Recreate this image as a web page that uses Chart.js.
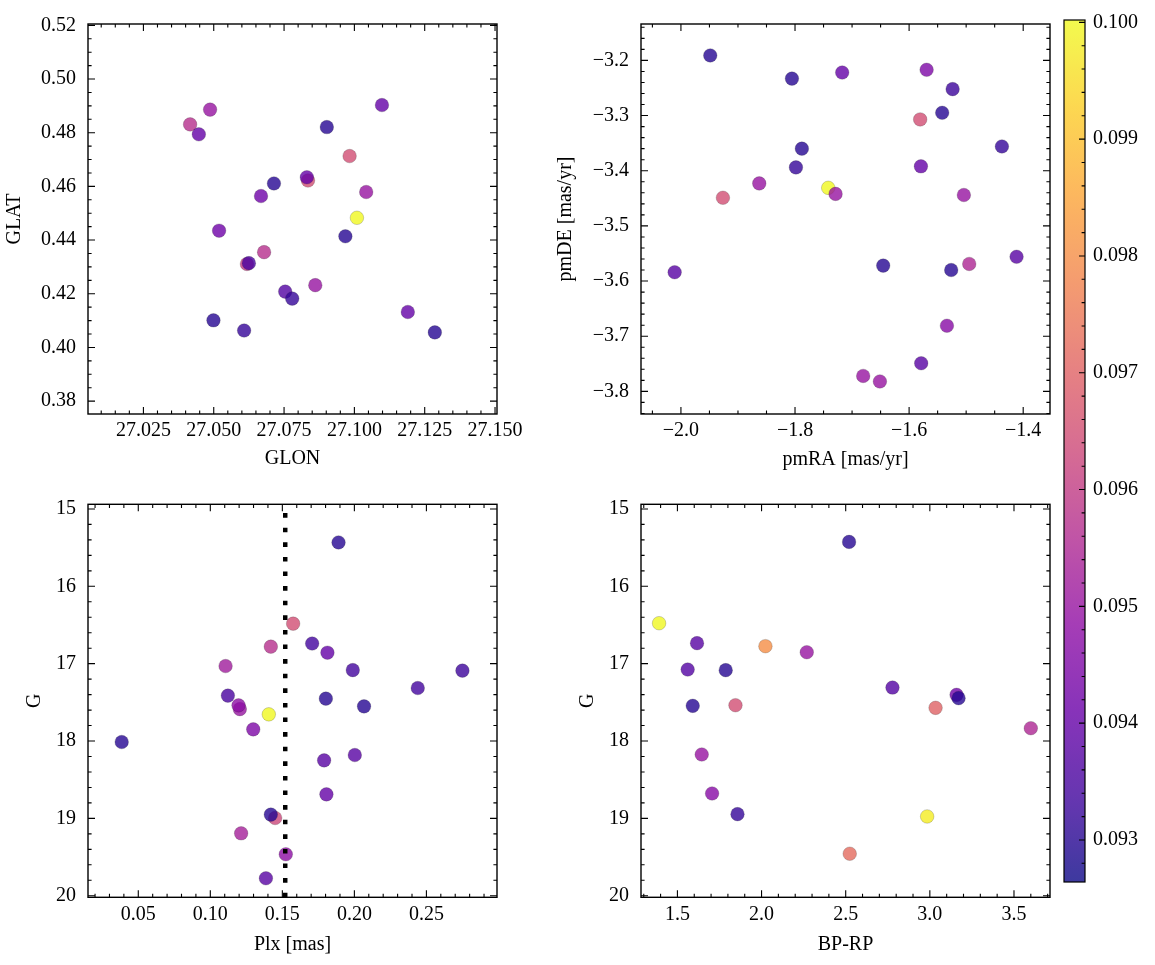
<!DOCTYPE html>
<html>
<head>
<meta charset="utf-8">
<script src="https://cdn.jsdelivr.net/npm/chart.js@4.4.1/dist/chart.umd.min.js"></script>
<style>
  body { margin: 0; background: #fff; }
  #wrap { position: relative; width: 1155px; height: 965px; }
  #wrap canvas { position: absolute; left: 0; top: 0; }
</style>
</head>
<body>
<div id="wrap">
  <canvas id="skyChart" width="1155" height="965"></canvas>
  <canvas id="pmChart" width="1155" height="965"></canvas>
  <canvas id="plxChart" width="1155" height="965"></canvas>
  <canvas id="cmdChart" width="1155" height="965"></canvas>
  <canvas id="cbarChart" width="1155" height="965"></canvas>
</div>
<script>
// ---- data ----
// sky positions
const glon = [27.0416, 27.0487, 27.0447, 27.1098, 27.0902, 27.0983, 27.0835, 27.0831, 27.0714, 27.0668, 27.1042, 27.1009, 27.0519, 27.0968, 27.0679, 27.0618, 27.0625, 27.0861, 27.0754, 27.0779, 27.0499, 27.0608, 27.1190, 27.1286];
const glat = [0.4831, 0.4886, 0.4794, 0.4903, 0.4821, 0.4713, 0.4622, 0.4634, 0.4611, 0.4564, 0.4579, 0.4483, 0.4435, 0.4414, 0.4355, 0.4311, 0.4314, 0.4232, 0.4208, 0.4182, 0.4101, 0.4063, 0.4132, 0.4056];
const probSky = [0.0957, 0.0950, 0.0940, 0.0940, 0.0930, 0.0965, 0.0965, 0.0940, 0.0930, 0.0942, 0.0950, 0.1000, 0.0942, 0.0930, 0.0957, 0.0960, 0.0935, 0.0950, 0.0937, 0.0932, 0.0930, 0.0932, 0.0940, 0.0930];

// proper motions
const pmra = [-1.9486, -1.8054, -1.7173, -1.5693, -1.5237, -1.5420, -1.5806, -1.4373, -1.7880, -1.7984, -1.5793, -1.8627, -1.9264, -1.7418, -1.7289, -1.5040, -1.4946, -1.4116, -1.6454, -1.5262, -2.0110, -1.5337, -1.5788, -1.6805, -1.6512];
const pmde = [-3.191, -3.233, -3.222, -3.217, -3.252, -3.295, -3.307, -3.356, -3.360, -3.394, -3.392, -3.423, -3.449, -3.431, -3.442, -3.444, -3.569, -3.556, -3.572, -3.580, -3.584, -3.681, -3.749, -3.772, -3.782];
const probPm = [0.0930, 0.0930, 0.0940, 0.0945, 0.0933, 0.0930, 0.0965, 0.0932, 0.0930, 0.0932, 0.0940, 0.0950, 0.0965, 0.1000, 0.0950, 0.0950, 0.0955, 0.0938, 0.0930, 0.0930, 0.0938, 0.0947, 0.0938, 0.0950, 0.0950];

// parallax vs G
const plx = [0.1890, 0.1575, 0.1420, 0.1707, 0.1813, 0.1106, 0.1989, 0.2750, 0.2440, 0.1122, 0.1802, 0.2067, 0.1205, 0.1196, 0.1406, 0.1298, 0.0385, 0.2003, 0.1790, 0.1806, 0.1450, 0.1420, 0.1214, 0.1524, 0.1386];
const gPlx = [15.433, 16.483, 16.780, 16.740, 16.858, 17.031, 17.083, 17.090, 17.315, 17.413, 17.452, 17.552, 17.587, 17.539, 17.655, 17.849, 18.013, 18.181, 18.250, 18.689, 18.995, 18.951, 19.193, 19.464, 19.774];
const probPlx = [0.0930, 0.0965, 0.0957, 0.0934, 0.0940, 0.0952, 0.0934, 0.0933, 0.0934, 0.0935, 0.0930, 0.0930, 0.0950, 0.0948, 0.1000, 0.0945, 0.0930, 0.0938, 0.0938, 0.0940, 0.0963, 0.0930, 0.0953, 0.0948, 0.0938];
const plxCut = 0.152;

// colour-magnitude
const bprp = [2.520, 1.391, 1.6165, 2.023, 2.2687, 1.561, 1.787, 2.778, 3.1587, 3.1706, 1.591, 1.845, 3.034, 3.600, 1.6445, 1.706, 1.857, 2.984, 2.524];
const gCmd = [15.426, 16.477, 16.735, 16.774, 16.852, 17.076, 17.084, 17.309, 17.403, 17.446, 17.545, 17.537, 17.571, 17.834, 18.174, 18.678, 18.945, 18.975, 19.457];
const probCmd = [0.0930, 0.1000, 0.0938, 0.0980, 0.0950, 0.0937, 0.0930, 0.0937, 0.0942, 0.0930, 0.0930, 0.0965, 0.0970, 0.0955, 0.0950, 0.0947, 0.0932, 0.0998, 0.0972];

// ticks and colour range
const glonTicks = [27.025, 27.05, 27.075, 27.1, 27.125, 27.15];
const glatTicks = [0.38, 0.40, 0.42, 0.44, 0.46, 0.48, 0.50, 0.52];
const pmraTicks = [-2.0, -1.8, -1.6, -1.4];
const pmdeTicks = [-3.8, -3.7, -3.6, -3.5, -3.4, -3.3, -3.2];
const plxTicks = [0.05, 0.10, 0.15, 0.20, 0.25];
const bprpTicks = [1.5, 2.0, 2.5, 3.0, 3.5];
const gTicks = [15, 16, 17, 18, 19, 20];
const cbarTicks = [0.093, 0.094, 0.095, 0.096, 0.097, 0.098, 0.099, 0.100];
const probMin = 0.09264, probMax = 0.10002;

// ---- drawing ----
const W = 1155, H = 965;
Chart.defaults.font.family = "'Liberation Serif', 'Times New Roman', serif";
Chart.defaults.font.size = 20;
Chart.defaults.color = "#000";

// matplotlib plasma, sampled every 0.1
const plasmaStops = [[13,8,135],[65,4,157],[106,0,168],[143,13,164],[177,42,144],[204,71,120],[225,100,98],[242,132,75],[252,166,54],[252,206,37],[240,249,33]];
function plasma(t) {
  t = Math.min(1, Math.max(0, t));
  const s = t * 10;
  const i = Math.min(9, Math.floor(s));
  const f = s - i;
  const a = plasmaStops[i], b = plasmaStops[i + 1];
  return a.map((v, k) => Math.round(v + (b[k] - v) * f));
}
function probColor(p, alpha) {
  const c = plasma((p - probMin) / (probMax - probMin));
  return `rgba(${c[0]},${c[1]},${c[2]},${alpha})`;
}
function fmt(v, d) {
  return v.toFixed(d).replace("-", "\u2212");
}

function minorValues(min, max, step, majors) {
  const out = [];
  for (let k = Math.ceil(min / step - 1e-6); k * step <= max + 1e-9; k++) {
    const v = k * step;
    if (!majors.some((m) => Math.abs(m - v) < step * 1e-3)) out.push(v);
  }
  return out;
}

// inward ticks on all four sides plus the frame
const axesFrame = {
  id: "axesFrame",
  afterDraw(chart, args, opts) {
    const { ctx, chartArea: a } = chart;
    const sx = chart.scales.x, sy = chart.scales.y;
    ctx.save();
    ctx.strokeStyle = "#000";
    ctx.lineWidth = 1.1;
    ctx.beginPath();
    const xm = sx.ticks.map((t) => t.value);
    const ym = sy.ticks.map((t) => t.value);
    const xTick = (v, len) => {
      const p = sx.getPixelForValue(v);
      ctx.moveTo(p, a.bottom); ctx.lineTo(p, a.bottom - len);
      ctx.moveTo(p, a.top); ctx.lineTo(p, a.top + len);
    };
    const yTick = (v, len) => {
      const p = sy.getPixelForValue(v);
      ctx.moveTo(a.left, p); ctx.lineTo(a.left + len, p);
      ctx.moveTo(a.right, p); ctx.lineTo(a.right - len, p);
    };
    xm.forEach((v) => xTick(v, 7));
    ym.forEach((v) => yTick(v, 7));
    minorValues(sx.min, sx.max, opts.xMinor, xm).forEach((v) => xTick(v, 3.6));
    minorValues(sy.min, sy.max, opts.yMinor, ym).forEach((v) => yTick(v, 3.6));
    ctx.stroke();
    ctx.lineWidth = 1.4;
    ctx.strokeRect(a.left, a.top, a.right - a.left, a.bottom - a.top);
    ctx.restore();
  },
};

function scatterSet(xs, ys, ps) {
  return {
    data: xs.map((x, i) => ({ x: x, y: ys[i] })),
    pointBackgroundColor: ps.map((p) => probColor(p, 0.8)),
    pointBorderColor: "rgba(40,40,40,0.35)",
    pointBorderWidth: 0.6,
    pointRadius: 6.8,
    order: 1,
  };
}

function panel(id, cfg) {
  const box = cfg.box;
  return new Chart(document.getElementById(id), {
    type: "scatter",
    data: { datasets: cfg.datasets },
    options: {
      responsive: false,
      animation: false,
      events: [],
      layout: {
        padding: { left: cfg.yTitleLeft, top: box.top, right: W - box.right, bottom: H - cfg.xAxisBottom },
      },
      plugins: {
        legend: { display: false },
        tooltip: { enabled: false },
        axesFrame: { xMinor: cfg.xMinor, yMinor: cfg.yMinor },
      },
      scales: {
        x: {
          type: "linear",
          position: "bottom",
          min: cfg.xRange[0],
          max: cfg.xRange[1],
          grid: { display: false, drawTicks: false },
          border: { display: false },
          afterBuildTicks: (s) => { s.ticks = cfg.xTicks.map((v) => ({ value: v })); },
          afterFit: (s) => { s.height = cfg.xAxisBottom - box.bottom; },
          ticks: { autoSkip: false, maxRotation: 0, padding: 5, callback: (v) => fmt(v, cfg.xDec) },
          title: { display: true, text: cfg.xTitle, padding: 0 },
        },
        y: {
          type: "linear",
          position: "left",
          reverse: !!cfg.yReverse,
          min: cfg.yRange[0],
          max: cfg.yRange[1],
          grid: { display: false, drawTicks: false },
          border: { display: false },
          afterBuildTicks: (s) => { s.ticks = cfg.yTicks.map((v) => ({ value: v })); },
          afterFit: (s) => { s.width = box.left - cfg.yTitleLeft; },
          ticks: { autoSkip: false, padding: 12, callback: (v) => fmt(v, cfg.yDec) },
          title: { display: true, text: cfg.yTitle, padding: 0 },
        },
      },
    },
    plugins: [axesFrame],
  });
}

panel("skyChart", {
  box: { left: 88, top: 20.7, right: 497, bottom: 414 },
  yTitleLeft: 2.5, xAxisBottom: 470.3,
  datasets: [scatterSet(glon, glat, probSky)],
  xRange: [27.0053, 27.1507], yRange: [0.3752, 0.5205],
  xTicks: glonTicks, yTicks: glatTicks, xDec: 3, yDec: 2,
  xMinor: 0.005, yMinor: 0.005,
  xTitle: "GLON", yTitle: "GLAT",
});

panel("pmChart", {
  box: { left: 641, top: 20.7, right: 1050, bottom: 414 },
  yTitleLeft: 554, xAxisBottom: 472,
  datasets: [scatterSet(pmra, pmde, probPm)],
  xRange: [-2.070, -1.353], yRange: [-3.841, -3.134],
  xTicks: pmraTicks, yTicks: pmdeTicks, xDec: 1, yDec: 1,
  xMinor: 0.05, yMinor: 0.02,
  xTitle: "pmRA [mas/yr]", yTitle: "pmDE [mas/yr]",
});

panel("plxChart", {
  box: { left: 88, top: 504.3, right: 497, bottom: 897.3 },
  yTitleLeft: 23, xAxisBottom: 956.5,
  datasets: [
    {
      data: [{ x: plxCut, y: 20.02 }, { x: plxCut, y: 14.94 }],
      showLine: true,
      borderColor: "#000",
      borderWidth: 4.5,
      borderDash: [4.6, 10],
      pointRadius: 0,
      order: 0,
    },
    scatterSet(plx, gPlx, probPlx),
  ],
  xRange: [0.0151, 0.299], yRange: [14.94, 20.02], yReverse: true,
  xTicks: plxTicks, yTicks: gTicks, xDec: 2, yDec: 0,
  xMinor: 0.01, yMinor: 0.2,
  xTitle: "Plx [mas]", yTitle: "G",
});

panel("cmdChart", {
  box: { left: 641, top: 504.3, right: 1050, bottom: 897.3 },
  yTitleLeft: 576, xAxisBottom: 956.5,
  datasets: [scatterSet(bprp, gCmd, probCmd)],
  xRange: [1.2836, 3.714], yRange: [14.94, 20.02], yReverse: true,
  xTicks: bprpTicks, yTicks: gTicks, xDec: 1, yDec: 0,
  xMinor: 0.1, yMinor: 0.2,
  xTitle: "BP-RP", yTitle: "G",
});

// colour bar: plasma strip on a linear probability scale
const cbarStrip = {
  id: "cbarStrip",
  beforeDatasetsDraw(chart) {
    const { ctx, chartArea: a } = chart;
    const g = ctx.createLinearGradient(0, a.bottom, 0, a.top);
    for (let i = 0; i <= 50; i++) {
      const t = i / 50;
      g.addColorStop(t, probColor(probMin + t * (probMax - probMin), 0.8));
    }
    ctx.save();
    ctx.fillStyle = g;
    ctx.fillRect(a.left, a.top, a.right - a.left, a.bottom - a.top);
    ctx.restore();
  },
  afterDraw(chart) {
    const { ctx, chartArea: a } = chart;
    const sy = chart.scales.y;
    const majors = sy.ticks.map((t) => t.value);
    ctx.save();
    ctx.strokeStyle = "#000";
    ctx.lineWidth = 1.1;
    ctx.beginPath();
    majors.forEach((v) => {
      const p = sy.getPixelForValue(v);
      ctx.moveTo(a.right, p); ctx.lineTo(a.right - 6, p);
    });
    minorValues(sy.min, sy.max, 0.0002, majors).forEach((v) => {
      const p = sy.getPixelForValue(v);
      ctx.moveTo(a.right, p); ctx.lineTo(a.right - 3.4, p);
    });
    ctx.stroke();
    ctx.lineWidth = 1.2;
    ctx.strokeRect(a.left, a.top, a.right - a.left, a.bottom - a.top);
    ctx.restore();
  },
};

new Chart(document.getElementById("cbarChart"), {
  type: "scatter",
  data: { datasets: [] },
  options: {
    responsive: false,
    animation: false,
    events: [],
    layout: { padding: { left: 1064, top: 16, right: 0, bottom: H - 882 } },
    plugins: { legend: { display: false }, tooltip: { enabled: false } },
    scales: {
      x: { type: "linear", display: false },
      y: {
        type: "linear",
        position: "right",
        min: probMin,
        max: probMax,
        grid: { display: false, drawTicks: false },
        border: { display: false },
        afterBuildTicks: (s) => { s.ticks = cbarTicks.map((v) => ({ value: v })); },
        afterFit: (s) => { s.width = W - 1085; },
        ticks: { autoSkip: false, padding: 8, callback: (v) => v.toFixed(3) },
      },
    },
  },
  plugins: [cbarStrip],
});
</script>
</body>
</html>
